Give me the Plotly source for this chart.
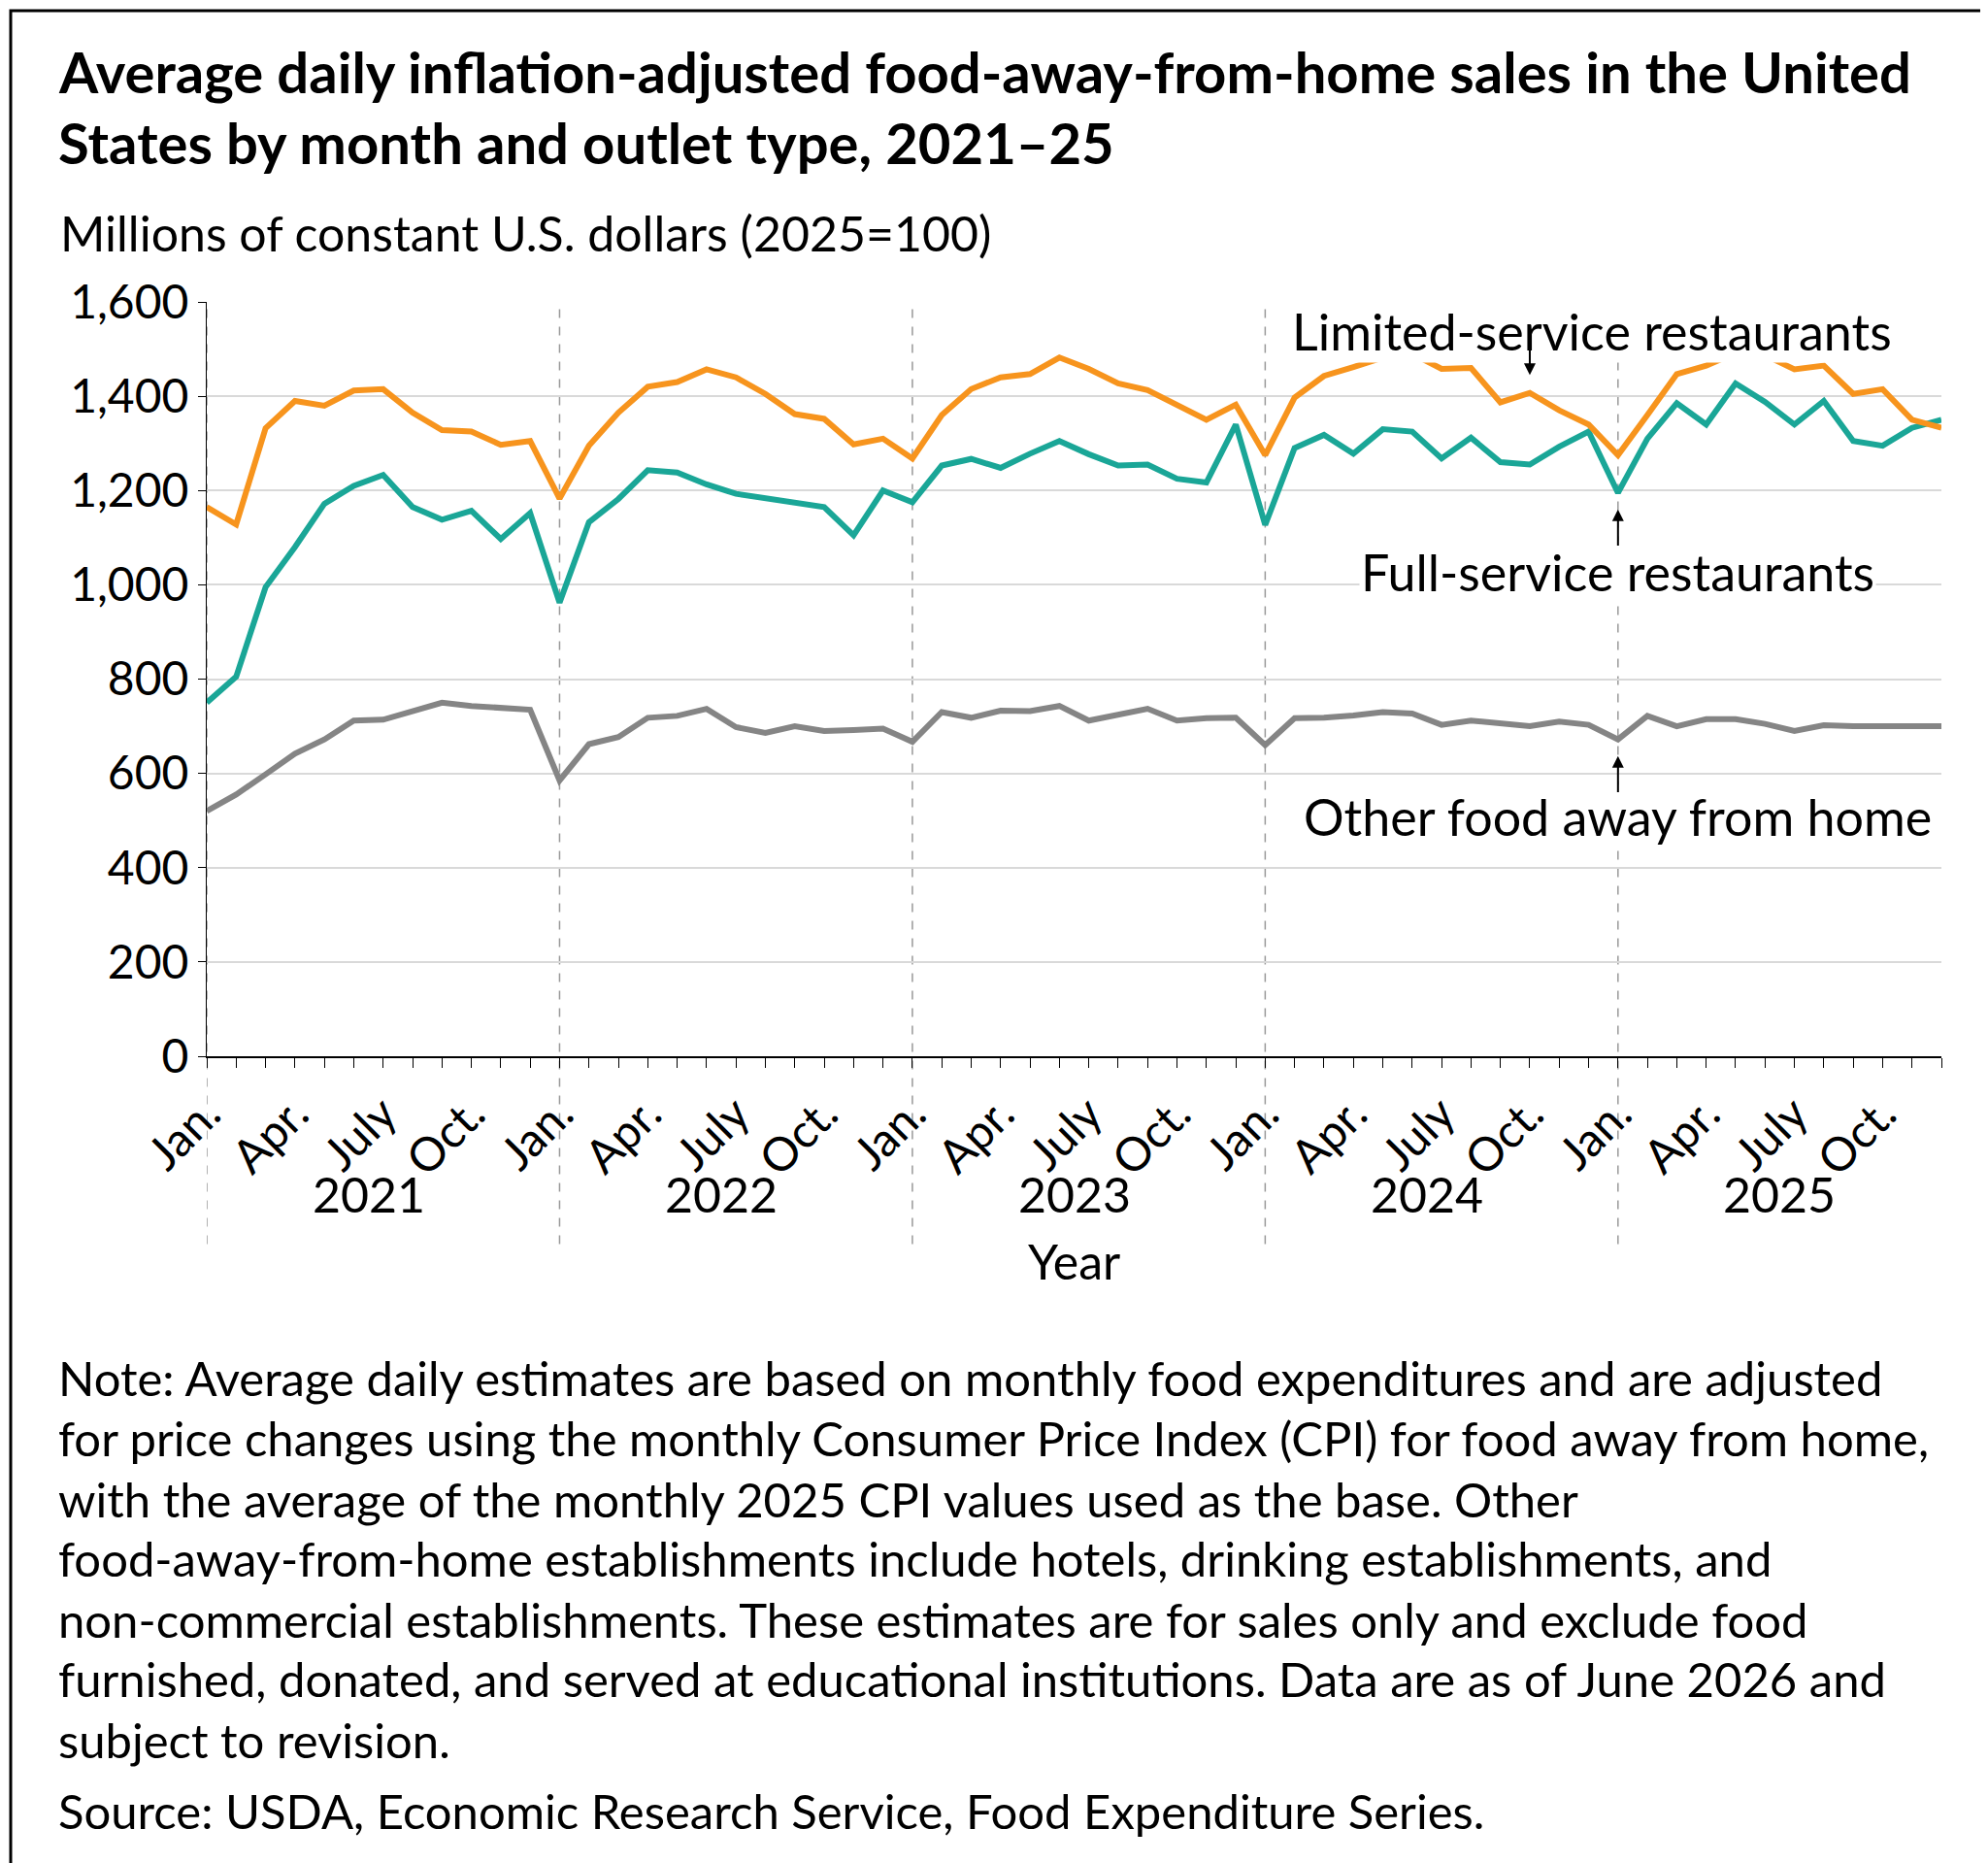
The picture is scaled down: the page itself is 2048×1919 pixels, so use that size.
import plotly.graph_objects as go

limited = [1165,1128,1332,1390,1380,1412,1415,1365,1328,1325,1297,1305,
           1183,1295,1365,1420,1430,1457,1440,1405,1362,1352,1298,1310,
           1268,1360,1415,1440,1447,1482,1458,1427,1413,1380,1350,1382,
           1275,1397,1443,1462,1482,1490,1458,1460,1387,1407,1370,1340,
           1275,1360,1447,1465,1492,1487,1457,1465,1405,1415,1350,1333]
full = [750,805,995,1080,1172,1210,1233,1165,1138,1157,1097,1152,
        962,1133,1182,1243,1238,1213,1193,1183,1173,1165,1105,1200,
        1175,1253,1267,1248,1278,1305,1277,1253,1255,1225,1217,1340,
        1127,1290,1318,1278,1330,1325,1268,1312,1260,1255,1293,1325,
        1195,1310,1385,1340,1427,1388,1340,1390,1305,1295,1333,1350]
other = [520,555,598,642,672,712,714,732,750,743,740,735,
         585,662,677,718,722,737,698,686,700,690,692,695,
         667,730,718,733,732,743,712,725,737,712,717,718,
         660,717,718,723,730,727,703,712,705,700,710,703,
         672,722,700,715,715,705,690,702,700,700,700,700]
years = ["2021","2022","2023","2024","2025"]
month_labels = ["Jan.","Apr.","July","Oct."]

x = list(range(60))
FONT = "Lato"
fig = go.Figure()
for y, c in [(other,"#858585"),(full,"#1aa697"),(limited,"#f7941d")]:
    fig.add_trace(go.Scatter(x=x, y=y, mode="lines", line=dict(color=c, width=6), showlegend=False))

tickvals = [i*12+m*3 for i in range(5) for m in range(4)]
ticktext = [month_labels[m] for i in range(5) for m in range(4)]

W, H = 2048, 1919
L, R, T, B = 205, 56, 303, 839
pw, ph = W-L-R, H-T-B
def py(real_y): return (H-B-real_y)/ph
def px(real_x): return (real_x-L)/pw
s = 2048/1568

shapes = []
for i in range(5):
    shapes.append(dict(type="line", xref="x", yref="paper", x0=i*12, x1=i*12,
                       y0=py(975*s), y1=1, line=dict(color="#999", width=1.5, dash="dash"), layer="below"))
shapes.append(dict(type="rect", xref="paper", yref="paper", x0=px(3), x1=px(2043), y0=py(1914), y1=py(3),
                   line=dict(color="black", width=3)))

ann = []
TF = dict(size=58, family=FONT, color="black")
ann.append(dict(xref="paper", yref="paper", x=px(50), y=py(50*s), xanchor="left", yanchor="middle", showarrow=False,
                text="<b>Average daily inflation-adjusted food-away-from-home sales in the United</b>", font=TF))
ann.append(dict(xref="paper", yref="paper", x=px(50), y=py(106*s), xanchor="left", yanchor="middle", showarrow=False,
                text="<b>States by month and outlet type, 2021–25</b>", font=TF))
BF = dict(size=50, family=FONT, color="black")
ann.append(dict(xref="paper", yref="paper", x=px(52), y=py(178*s), xanchor="left", yanchor="middle", showarrow=False,
                text="Millions of constant U.S. dollars (2025=100)", font=BF))
for i, yr in enumerate(years):
    ann.append(dict(xref="x", yref="paper", x=i*12+5.5, y=py(960*s), showarrow=False, text=yr, font=BF))
ann.append(dict(xref="paper", yref="paper", x=0.5, y=py(1013*s), showarrow=False, text="Year", font=BF))
notes = ["Note: Average daily estimates are based on monthly food expenditures and are adjusted",
         "for price changes using the monthly Consumer Price Index (CPI) for food away from home,",
         "with the average of the monthly 2025 CPI values used as the base. Other",
         "food-away-from-home establishments include hotels, drinking establishments, and",
         "non-commercial establishments. These estimates are for sales only and exclude food",
         "furnished, donated, and served at educational institutions. Data are as of June 2026 and",
         "subject to revision."]
ys = [1080,1128,1176,1223,1271,1318,1366]
NF = dict(size=49, family=FONT, color="black")
for t, yy in zip(notes, ys):
    ann.append(dict(xref="paper", yref="paper", x=px(38*s), y=py(yy*s), xanchor="left", yanchor="middle",
                    showarrow=False, text=t, font=NF))
ann.append(dict(xref="paper", yref="paper", x=px(38*s), y=py(1422*s), xanchor="left", yanchor="middle",
                showarrow=False, text="Source: USDA, Economic Research Service, Food Expenditure Series.", font=NF))
lab = dict(size=52, family=FONT, color="black")
ann.append(dict(xref="x", yref="paper", x=47.1, y=py(230*s), showarrow=False, text="Limited-service restaurants", font=lab, bgcolor="white"))
ann.append(dict(xref="x", yref="y", x=48, y=1027, showarrow=False, text="Full-service restaurants", font=lab, bgcolor="white"))
ann.append(dict(xref="x", yref="y", x=48, y=508, showarrow=False, text="Other food away from home", font=lab, bgcolor="white"))
for (xx, y0, y1) in [(45, 1540, 1445), (48, 1080, 1160), (48, 557, 637)]:
    ann.append(dict(xref="x", yref="y", axref="x", ayref="y", x=xx, y=y1, ax=xx, ay=y0, text="",
                    showarrow=True, arrowhead=2, arrowsize=1.2, arrowwidth=2, arrowcolor="black"))

fig.update_layout(width=W, height=H, margin=dict(l=L, r=R, t=T, b=B), plot_bgcolor="white", paper_bgcolor="white",
                  shapes=shapes, annotations=ann, font=dict(family=FONT, color="black"))
fig.update_xaxes(range=[0, 59], tickmode="array", tickvals=tickvals, ticktext=ticktext, tickangle=-45,
                 tickfont=dict(size=48), showgrid=False, showline=True, linecolor="black", linewidth=2,
                 ticks="outside", ticklen=10, tickcolor="black",
                 minor=dict(tickmode="linear", tick0=0, dtick=1, ticks="outside", ticklen=10, tickcolor="black"))
fig.update_yaxes(range=[0, 1600], dtick=200, tickformat=",", tickfont=dict(size=48), showgrid=True,
                 gridcolor="#d9d9d9", gridwidth=1.5, showline=True, linecolor="black", linewidth=1,
                 ticks="outside", ticklen=8, tickcolor="black", zeroline=False)
fig.write_html("out.html")
